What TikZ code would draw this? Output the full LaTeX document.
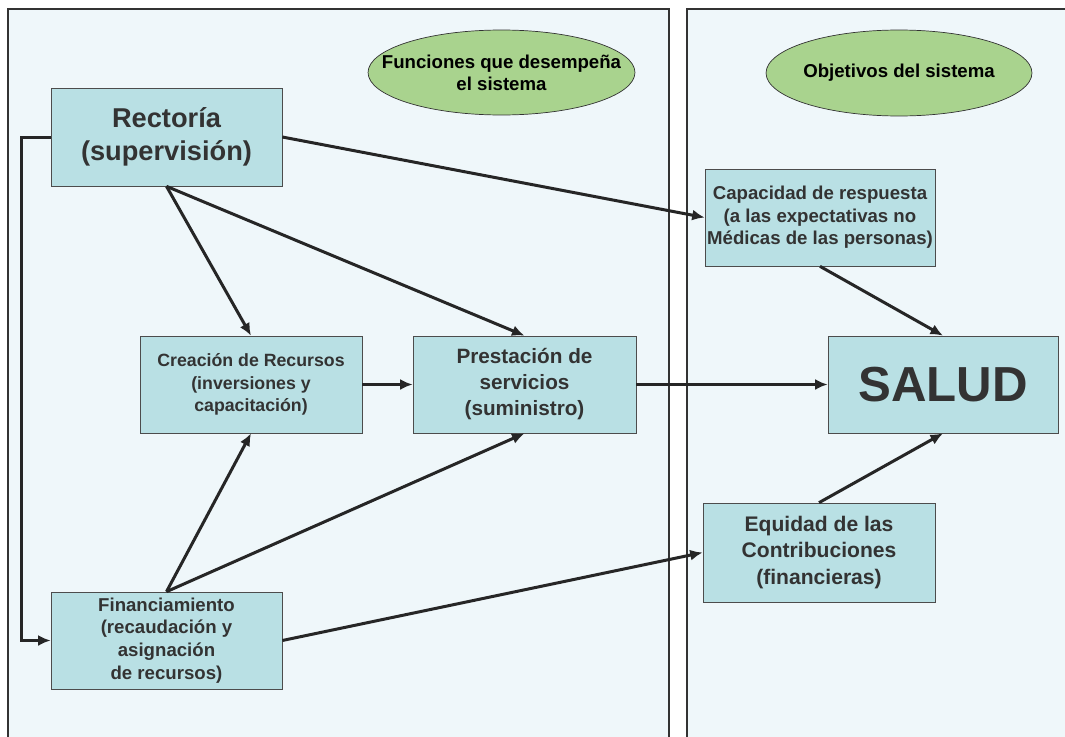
\documentclass[tikz,border=0pt]{standalone}
\usepackage{fontspec}
\setmainfont{Liberation Sans}
\usetikzlibrary{shapes.geometric,arrows.meta}
\definecolor{cajafill}{HTML}{B9E0E4}
\definecolor{elipfill}{HTML}{A9D38E}
\definecolor{panelfill}{HTML}{EFF7FA}
\definecolor{linea}{HTML}{262626}
\definecolor{texto}{HTML}{333333}
\tikzset{
    caja/.style={draw=black!70, fill=cajafill, text=texto, align=center, inner sep=0pt},
    elip/.style={ellipse, draw=black!80, fill=elipfill, inner sep=0pt},
    eliptexto/.style={align=center, inner sep=0pt, font=\bfseries\fontsize{10.6}{12.5}\selectfont},
    flecha/.style={-{Latex[length=2.5mm,width=2.2mm]}, line width=0.06cm, draw=linea},
    panel/.style={draw=black!80, line width=0.03cm}
}
\begin{document}
\begin{tikzpicture}[x=0.02cm, y=-0.02cm]
            \useasboundingbox (0,0) rectangle (1065,737);
            \fill[white] (0,0) rectangle (1065,737);
            \fill[panelfill] (8,9) rectangle (669,737);
            \fill[panelfill] (687,9) rectangle (1065,737);
            \draw[panel] (8,737) |- (669,9) -- (669,737);
            \draw[panel] (687,737) |- (1065,9);

            \node[elip, minimum width=5.34cm, minimum height=1.7cm,
                  label={[eliptexto]center:Funciones que desempeña\\el sistema}] (fun) at (501.5,72.5) {};
            \node[elip, minimum width=5.32cm, minimum height=1.72cm,
                  label={[eliptexto]center:Objetivos del sistema}] (obj) at (899,73) {};

            \node[caja, minimum width=4.62cm, minimum height=1.96cm, font=\bfseries\fontsize{15.5}{18.7}\selectfont] (rect) at (166.5,137) {Rectoría\\(supervisión)};
            \node[caja, minimum width=4.44cm, minimum height=1.94cm, font=\bfseries\fontsize{10.1}{12.9}\selectfont] (crea) at (251,384.5) {Creación de Recursos\\(inversiones y\\capacitación)};
            \node[caja, minimum width=4.46cm, minimum height=1.94cm, font=\bfseries\fontsize{11.8}{14.8}\selectfont] (prest) at (524.5,384.5) {Prestación de\\servicios\\(suministro)};
            \node[caja, minimum width=4.62cm, minimum height=1.94cm, font=\bfseries\fontsize{10.6}{12.9}\selectfont] (fin) at (166.5,640.5) {Financiamiento\\(recaudación y\\asignación\\de recursos)};
            \node[caja, minimum width=4.6cm, minimum height=1.94cm, font=\bfseries\fontsize{10.6}{12.9}\selectfont] (cap) at (820,217.5) {Capacidad de respuesta\\(a las expectativas no\\Médicas de las personas)};
            \node[caja, minimum width=4.6cm, minimum height=1.94cm, font=\bfseries\fontsize{28}{32}\selectfont] (salud) at (943,384.5) {SALUD};
            \node[caja, minimum width=4.64cm, minimum height=1.98cm, font=\bfseries\fontsize{12}{15.1}\selectfont] (equi) at (819,552.5) {Equidad de las\\Contribuciones\\(financieras)};

            \draw[flecha] (rect.east) -- (cap.west);
            \draw[flecha] (rect.south) -- (crea.north);
            \draw[flecha] (rect.south) -- (prest.north);
            \draw[flecha] (crea.east) -- (prest.west);
            \draw[flecha] (prest.east) -- (salud.west);
            \draw[flecha] (cap.south) -- (salud.north);
            \draw[flecha] (equi.north) -- (salud.south);
            \draw[flecha] (fin.north) -- (crea.south);
            \draw[flecha] (fin.north) -- (prest.south);
            \draw[flecha] (fin.east) -- (equi.west);
            \draw[flecha] (rect.west) -- ++(-29,0) |- (fin.west);
        \end{tikzpicture}
\end{document}
